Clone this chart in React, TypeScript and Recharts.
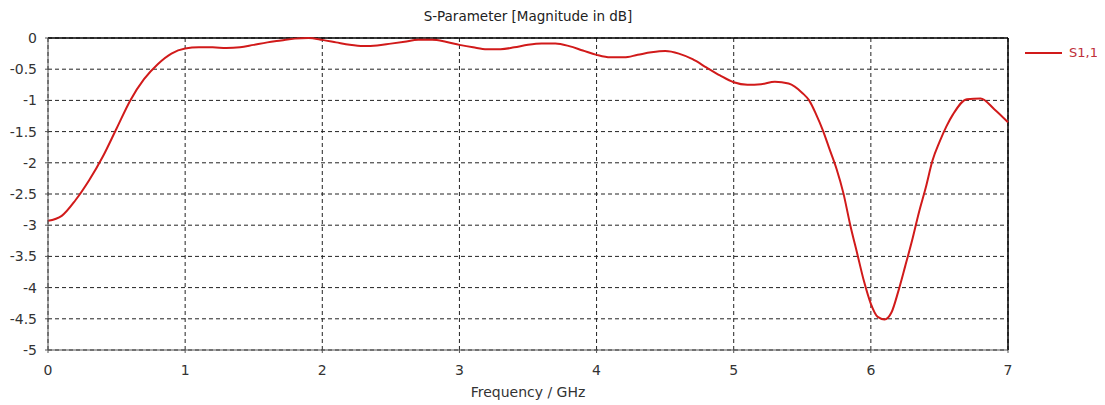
import { LineChart, Line, XAxis, YAxis, CartesianGrid, ReferenceLine } from 'recharts'

const FREQ_GHZ = [
  0, 0.1, 0.2, 0.3, 0.4, 0.5, 0.6, 0.7, 0.8, 0.9,
  1, 1.1, 1.2, 1.3, 1.4, 1.5, 1.6, 1.7, 1.8, 1.9,
  2, 2.1, 2.2, 2.3, 2.4, 2.5, 2.6, 2.7, 2.8, 2.9,
  3, 3.1, 3.2, 3.3, 3.4, 3.5, 3.6, 3.7, 3.8, 3.9,
  4, 4.1, 4.2, 4.3, 4.4, 4.5, 4.6, 4.7, 4.8, 4.9,
  5, 5.1, 5.2, 5.3, 5.4, 5.5, 5.55, 5.6, 5.65, 5.7, 5.75, 5.8, 5.85, 5.9, 5.95,
  6, 6.05, 6.1, 6.15, 6.2, 6.25, 6.3, 6.35, 6.4, 6.45, 6.5, 6.55, 6.6,
  6.7, 6.8, 6.9, 7,
]

const S11_DB = [
  -2.93, -2.85, -2.6, -2.28, -1.9, -1.45, -1.0, -0.66, -0.42, -0.25,
  -0.17, -0.15, -0.15, -0.16, -0.15, -0.11, -0.07, -0.04, -0.01, 0.0,
  -0.03, -0.07, -0.11, -0.13, -0.12, -0.09, -0.06, -0.03, -0.03, -0.06,
  -0.11, -0.15, -0.18, -0.18, -0.15, -0.11, -0.09, -0.09, -0.13, -0.2,
  -0.27, -0.31, -0.31, -0.27, -0.23, -0.21, -0.25, -0.34, -0.47, -0.6,
  -0.71, -0.75, -0.74, -0.7, -0.73, -0.88, -1.0, -1.22, -1.48, -1.79, -2.1, -2.49, -3.0, -3.45, -3.9,
  -4.26, -4.47, -4.51, -4.4, -4.06, -3.66, -3.25, -2.8, -2.4, -1.96, -1.67, -1.42, -1.22,
  -0.98, -0.97, -1.14, -1.35,
]

const X_TICKS = [0, 1, 2, 3, 4, 5, 6, 7]
const Y_TICKS = [-5, -4.5, -4, -3.5, -3, -2.5, -2, -1.5, -1, -0.5, 0]

const data = FREQ_GHZ.map((f, i) => ({ f, s11: S11_DB[i] }))

const FONT = '"DejaVu Sans", Verdana, sans-serif'
const RED = '#d11a1a'

export default function App() {
  return (
    <div style={{ position: 'relative', width: 1105, height: 405, marginTop: -8, marginLeft: -8, background: '#fff' }}>
      <div
        style={{
          position: 'absolute',
          left: 48,
          width: 960,
          top: 8,
          textAlign: 'center',
          fontFamily: FONT,
          fontSize: 13.5,
          color: '#222',
        }}
      >
        S-Parameter [Magnitude in dB]
      </div>
      <div
        style={{
          position: 'absolute',
          left: 1025,
          top: 45,
          display: 'flex',
          alignItems: 'center',
          fontFamily: FONT,
          fontSize: 13,
          color: '#c0303a',
        }}
      >
        <span style={{ display: 'inline-block', width: 37, height: 2, background: RED, marginRight: 7 }} />
        S1,1
      </div>
      <LineChart width={1105} height={405} data={data} margin={{ top: 38, right: 97, left: 0, bottom: 0 }}>
        <CartesianGrid stroke="#222" strokeDasharray="4 3" />
        <XAxis
          dataKey="f"
          type="number"
          domain={[0, 7]}
          ticks={X_TICKS}
          height={55}
          tickSize={3}
          tickMargin={12}
          stroke="#555"
          tick={{ fill: '#333', fontSize: 14, fontFamily: FONT }}
          label={{ value: 'Frequency / GHz', position: 'insideBottom', offset: 8, fill: '#333', fontSize: 14, fontFamily: FONT }}
        />
        <YAxis
          type="number"
          domain={[-5, 0]}
          ticks={Y_TICKS}
          width={48}
          tickSize={3}
          tickMargin={8}
          stroke="#555"
          tick={{ fill: '#333', fontSize: 14, fontFamily: FONT }}
        />
        <ReferenceLine y={0} stroke="#000" strokeWidth={1.5} />
        <ReferenceLine x={7} stroke="#000" strokeWidth={1.5} />
        <Line
          type="monotone"
          dataKey="s11"
          stroke={RED}
          strokeWidth={2}
          dot={false}
          isAnimationActive={false}
        />
      </LineChart>
    </div>
  )
}
